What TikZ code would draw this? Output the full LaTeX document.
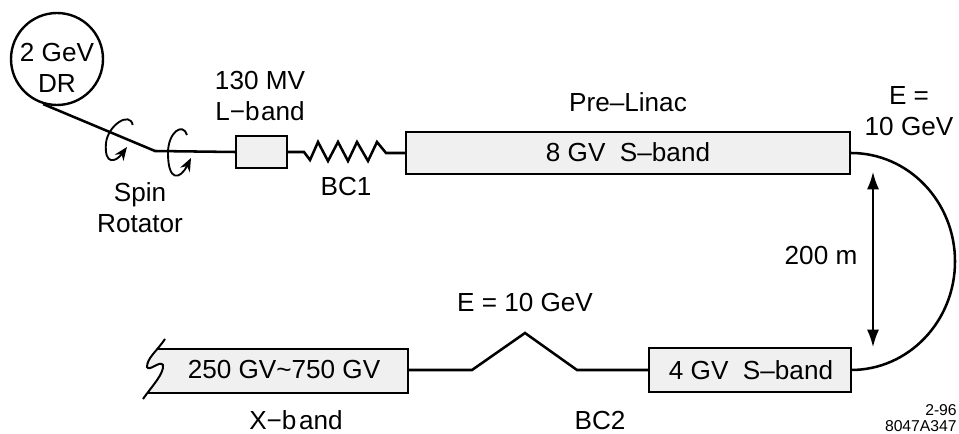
\documentclass[tikz,border=0pt]{standalone}
\usepackage{fontspec}
\setmainfont{Liberation Sans}
\usetikzlibrary{arrows.meta}
\definecolor{boxgray}{gray}{0.94}

\begin{document}
\begin{tikzpicture}[x=0.75pt, y=-0.75pt,
  lbl/.style={inner sep=0pt, align=center, font=\fontsize{19.6}{23.25}\selectfont},
  tinylbl/.style={inner sep=0pt, align=right, anchor=east, font=\fontsize{11.8}{12}\selectfont},
  ring/.style={draw=black, circle, line width=1.8pt, inner sep=0pt, minimum size=69pt},
  linac/.style={draw=black, fill=boxgray, line width=1.5pt, inner sep=0pt, minimum height=32pt},
  beam/.style={line width=1.9pt, line join=miter},
  span/.style={{Latex[length=13pt,width=9pt]}-{Latex[length=13pt,width=9pt]}, line width=1.2pt},
  spin/.style={-{Stealth[length=10pt,width=8pt]}, line width=1.4pt}]
  \useasboundingbox (0,0) rectangle (959,434);
  % damping ring and spin rotator
  \node[ring] (dr) at (57,59) {};
  \node[lbl] (drtext) at (57,67.5) {2 GeV\\DR};
  \coordinate (bend) at (155,151);
  \node[linac, minimum width=38pt, minimum height=24pt, line width=1.9pt] (lband) at (261.5,152) {};
  \draw[beam] (dr.-107) -- (bend) -- (lband.west);
  \draw[spin] (132.7,125) .. controls (130,111) and (108,125) .. (106,143)
    .. controls (104,166) and (116,162) .. (127,147);
  \draw[spin] (187,135) .. controls (183,122) and (168,132) .. (168,153)
    .. controls (168,182) and (180,180) .. (191,158);
  \node[lbl] (spinlbl) at (140,208) {Spin\\Rotator};
  \node[lbl] (lbandlbl) at (260,96) {130 MV\\L−b\kern1pt and};
  % first bunch compressor and pre-linac
  \node[linac, minimum width=333pt] (prelinac) at (628,153) {};
  \node[lbl] (prelinactext) at (628,152) {8 GV\ \ S–band};
  \node[lbl] (prelinaclbl) at (628,102) {Pre–Linac};
  \draw[beam] (lband.east) -- (304,152) -- (310,160) -- (318,142) -- (328,161)
    -- (338,142) -- (348,161) -- (357,142) -- (368,161) -- (377,142)
    -- (386,153) -- (prelinac.west);
  \node[lbl] (bcone) at (346,187) {BC1};
  % return arc
  \node[linac, minimum width=151pt, minimum height=33pt] (sband) at (750,370) {};
  \node[lbl] (sbandtext) at (751,370) {4 GV\ \ S–band};
  \draw[beam] (prelinac.east) arc[start angle=-90, end angle=90, x radius=104, y radius=108.5];
  \node[lbl] (elbl) at (909,111.5) {E =\\10 GeV};
  \coordinate (spantop) at (873,172);
  \coordinate (spanbot) at (873,347);
  \draw[span] (spantop) -- (spanbot);
  \node[lbl] (spanlbl) at (821,256) {200 m};
  % X-band linac, open on the left
  \fill[boxgray] (158,350) -- (407,350) -- (407,392) -- (149,392)
    .. controls (155,382) and (164,372) .. (163,365)
    .. controls (160,360) and (150,372) .. (148,367)
    .. controls (147,362) and (154,356) .. (158,350);
  \draw[line width=1.5pt] (158,349) -- (408,349) -- (408,393) -- (148,393);
  \draw[line width=1.5pt] (165,339) .. controls (157,351) and (147,358) .. (147,367)
    .. controls (149,372) and (160,360) .. (163,365)
    .. controls (164,374) and (152,386) .. (143,399);
  \node[lbl] (xbandtext) at (284,370) {250 GV\char`\~750 GV};
  \node[lbl] (xbandlbl) at (296,420.5) {X−b\kern2pt and};
  % second bunch compressor
  \coordinate (xbandend) at (408,370);
  \coordinate (bctwoa) at (472,370);
  \coordinate (bctwob) at (525,333);
  \coordinate (bctwoc) at (577,370);
  \draw[beam] (xbandend) -- (bctwoa) -- (bctwob) -- (bctwoc) -- (sband.west);
  \node[lbl] (energylbl) at (525,303) {E = 10 GeV};
  \node[lbl] (bctwo) at (600,420.5) {BC2};
  \node[tinylbl] (tag) at (957,418) {2-96\\8047A347};
\end{tikzpicture}
\end{document}
